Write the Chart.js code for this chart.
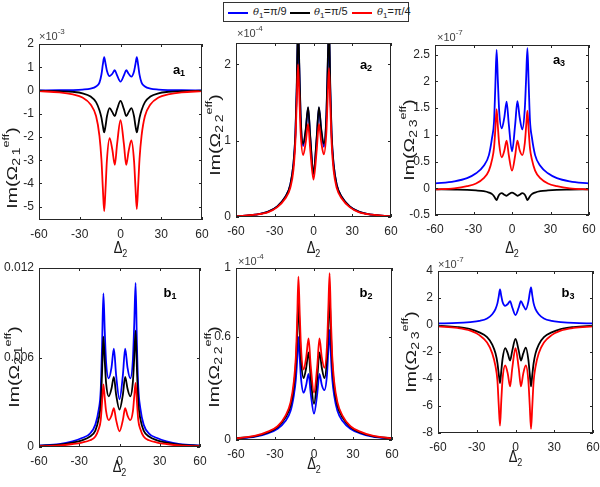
<!DOCTYPE html>
<html>
<head>
<meta charset="utf-8">
<script src="https://cdn.jsdelivr.net/npm/chart.js"></script>
<style>
  body { margin: 0; width: 600px; height: 487px; background: #fff; position: relative; overflow: hidden;
         font-family: "Liberation Sans", Arial, sans-serif; }
  canvas { position: absolute; }
  #leg { position: absolute; left: 223px; top: 2px; width: 184px; height: 18px; border: 1px solid #333;
         background: #fff; font-size: 11px; color: #222; }
  #leg .ln { position: absolute; top: 9px; width: 20px; height: 1.5px; }
  #leg .tx { position: absolute; top: 2px; white-space: nowrap; }
  #leg i { font-family: "DejaVu Serif", serif; font-size: 10px; }
  #leg sub { font-size: 8px; }
</style>
</head>
<body>
<div id="leg">
  <span class="ln" style="left:4px;background:#0000ff"></span><span class="tx" style="left:29px"><i>θ</i><sub>1</sub>=π/9</span>
  <span class="ln" style="left:66px;background:#000"></span><span class="tx" style="left:90px"><i>θ</i><sub>1</sub>=π/5</span>
  <span class="ln" style="left:128px;background:#ff0000"></span><span class="tx" style="left:153px"><i>θ</i><sub>1</sub>=π/4</span>
</div>
<canvas id="a1"></canvas>
<canvas id="a2"></canvas>
<canvas id="a3"></canvas>
<canvas id="b1"></canvas>
<canvas id="b2"></canvas>
<canvas id="b3"></canvas>
<script>
// detuning Δ2 sample points
const delta = [-60,-45,-35,-28,-22,-18,-15.5,-14,-13,-12,-11,-10,-8,-6,-4.2,-2.5,0,2.5,4.2,6,8,10,11,12,13,14,15.5,18,22,28,35,45,60];
const xTicks = [-60, -30, 0, 30, 60];

// a1: Im(Ω21 eff) x 1e-3
const a1Blue  = [0,0.01,0.02,0.04,0.08,0.17,0.34,0.7,1.12,1.43,1.15,0.85,0.62,0.72,0.87,0.65,0.38,0.65,0.87,0.72,0.6,0.83,1.13,1.43,1.1,0.68,0.34,0.17,0.08,0.04,0.02,0.01,0];
const a1Black = [-0.01,-0.03,-0.06,-0.12,-0.26,-0.5,-0.85,-1.18,-1.52,-1.8,-1.52,-1.12,-0.76,-0.93,-1.1,-0.8,-0.45,-0.8,-1.1,-0.93,-0.76,-1.12,-1.52,-1.8,-1.52,-1.18,-0.85,-0.5,-0.26,-0.12,-0.06,-0.03,-0.01];
const a1Red   = [-0.03,-0.08,-0.17,-0.3,-0.6,-1.1,-1.95,-3.0,-4.2,-5.2,-4.2,-3.0,-2.05,-2.55,-3.2,-2.3,-1.28,-2.3,-3.2,-2.6,-2.15,-3.05,-4.15,-5.1,-4.1,-2.95,-1.95,-1.1,-0.6,-0.3,-0.17,-0.08,-0.03];
const a1Ticks = [-5, -4, -3, -2, -1, 0, 1, 2];

// a2: Im(Ω22 eff) x 1e-4
const a2Blue  = [0.01,0.03,0.07,0.14,0.26,0.42,0.7,1.08,1.65,2.45,1.95,1.32,0.93,1.13,1.43,1.03,0.56,1.03,1.43,1.13,0.92,1.32,1.95,2.45,1.65,1.08,0.7,0.42,0.26,0.14,0.07,0.03,0.01];
const a2Black = [0.01,0.03,0.07,0.14,0.26,0.42,0.7,1.1,1.7,2.6,2.0,1.35,0.96,1.15,1.44,1.05,0.57,1.05,1.44,1.15,0.96,1.35,2.0,2.6,1.7,1.1,0.7,0.42,0.26,0.14,0.07,0.03,0.01];
const a2Red   = [0.01,0.03,0.065,0.13,0.24,0.38,0.62,1.0,1.5,2.0,1.6,1.12,0.81,0.98,1.22,0.88,0.49,0.88,1.22,0.98,0.82,1.12,1.58,1.95,1.48,0.98,0.62,0.38,0.24,0.13,0.065,0.03,0.01];
const a2Ticks = [0, 1, 2];

// a3: Im(Ω23 eff) x 1e-7
const a3Blue  = [0.09,0.13,0.19,0.28,0.42,0.62,0.95,1.25,1.9,2.59,2.0,1.45,1.12,1.32,1.62,1.2,0.69,1.2,1.63,1.32,1.1,1.5,2.05,2.62,1.95,1.27,0.95,0.62,0.42,0.28,0.19,0.13,0.09];
const a3Black = [-0.02,-0.025,-0.03,-0.04,-0.055,-0.08,-0.11,-0.15,-0.19,-0.22,-0.17,-0.12,-0.09,-0.12,-0.14,-0.11,-0.08,-0.11,-0.14,-0.12,-0.09,-0.12,-0.17,-0.22,-0.19,-0.15,-0.11,-0.08,-0.055,-0.04,-0.03,-0.025,-0.02];
const a3Red   = [-0.02,0.0,0.04,0.09,0.19,0.33,0.54,0.76,1.1,1.48,1.15,0.83,0.58,0.7,0.89,0.62,0.33,0.62,0.89,0.71,0.62,0.85,1.15,1.45,1.08,0.75,0.54,0.33,0.19,0.09,0.04,0.0,-0.02];
const a3Ticks = [-0.5, 0, 0.5, 1, 1.5, 2, 2.5];

// b1: Im(Ω21 eff)
const b1Blue  = [0.0001,0.0002,0.00038,0.0006,0.0009,0.0015,0.0025,0.0038,0.0068,0.0103,0.0078,0.0057,0.0046,0.0053,0.0066,0.0048,0.0032,0.0048,0.0066,0.0053,0.0046,0.0059,0.0083,0.011,0.0068,0.004,0.0026,0.0015,0.0009,0.0006,0.00038,0.0002,0.0001];
const b1Black = [0.00008,0.00016,0.0003,0.00045,0.0007,0.0011,0.0019,0.0029,0.005,0.0074,0.0058,0.0043,0.0034,0.0039,0.0047,0.0035,0.0025,0.0035,0.0047,0.0039,0.0034,0.0044,0.006,0.0078,0.0052,0.003,0.0019,0.0011,0.0007,0.00045,0.0003,0.00016,0.00008];
const b1Red   = [0.00005,0.0001,0.0002,0.0003,0.00045,0.0007,0.0012,0.0018,0.003,0.0042,0.0033,0.0024,0.0018,0.0021,0.0026,0.0018,0.00105,0.0018,0.0026,0.0021,0.0018,0.0024,0.0034,0.0043,0.003,0.0018,0.0012,0.0007,0.00045,0.0003,0.0002,0.0001,0.00005];
const b1Ticks = [0, 0.006, 0.012];

// b2: Im(Ω22 eff) x 1e-4
const b2Blue  = [0.008,0.02,0.04,0.065,0.11,0.17,0.26,0.35,0.46,0.6,0.48,0.36,0.275,0.32,0.385,0.27,0.153,0.27,0.385,0.32,0.29,0.38,0.52,0.64,0.49,0.36,0.26,0.17,0.11,0.065,0.04,0.02,0.008];
const b2Black = [0.01,0.022,0.045,0.075,0.13,0.2,0.31,0.44,0.6,0.81,0.63,0.47,0.36,0.42,0.51,0.36,0.21,0.36,0.51,0.42,0.36,0.48,0.66,0.84,0.62,0.45,0.31,0.2,0.13,0.075,0.045,0.022,0.01];
const b2Red   = [0.01,0.025,0.05,0.08,0.14,0.22,0.34,0.48,0.68,0.95,0.74,0.54,0.41,0.48,0.59,0.43,0.275,0.43,0.59,0.48,0.42,0.55,0.76,0.97,0.7,0.49,0.34,0.22,0.14,0.08,0.05,0.025,0.01];
const b2Ticks = [0, 0.6, 1];

// b3: Im(Ω23 eff) x 1e-7
const b3Blue  = [0.12,0.15,0.22,0.3,0.48,0.8,1.18,1.6,2.1,2.63,2.15,1.7,1.42,1.55,1.77,1.3,0.74,1.3,1.77,1.45,1.15,1.75,2.35,2.78,2.2,1.62,1.18,0.8,0.48,0.3,0.22,0.15,0.12];
const b3Black = [-0.05,-0.15,-0.3,-0.55,-0.9,-1.45,-2.1,-2.8,-3.6,-4.3,-3.4,-2.5,-1.72,-2.1,-2.63,-1.9,-1.03,-1.9,-2.63,-2.1,-1.67,-2.6,-3.6,-4.55,-3.7,-2.85,-2.1,-1.45,-0.9,-0.55,-0.3,-0.15,-0.05];
const b3Red   = [-0.1,-0.22,-0.42,-0.75,-1.3,-2.1,-3.05,-4.1,-5.9,-7.45,-5.6,-4.0,-3.0,-3.6,-4.55,-3.2,-1.72,-3.2,-4.55,-3.6,-3.0,-4.2,-5.9,-7.7,-6.0,-4.2,-3.1,-2.1,-1.3,-0.75,-0.42,-0.22,-0.1];
const b3Ticks = [-8, -6, -4, -2, 0, 2, 4];

Chart.defaults.font.family = '"Liberation Sans", Arial, sans-serif';

// layout of each panel (page px): canvas box, plot rect, label spots
const panels = [
  { id: 'a1', series: [a1Blue, a1Black, a1Red], yTicks: a1Ticks, yMin: -5.57, yMax: 2,
    box: [0, 18, 220, 258], plot: [39, 44, 202, 220], sub: '21', exp: '-3', expAt: [39, 37],
    yLab: [13, 168], dLab: [120.5, 249], tag: ['a', '1', 179, 70] },
  { id: 'a2', series: [a2Blue, a2Black, a2Red], yTicks: a2Ticks, yMin: 0, yMax: 2.28,
    box: [198, 18, 409, 258], plot: [236, 43, 391, 217], sub: '22', exp: '-4', expAt: [237, 34],
    yLab: [216, 135], dLab: [313.5, 249], tag: ['a', '2', 366, 65] },
  { id: 'a3', series: [a3Blue, a3Black, a3Red], yTicks: a3Ticks, yMin: -0.5, yMax: 2.68,
    box: [396, 18, 607, 258], plot: [435, 45, 589, 215], sub: '23', exp: '-7', expAt: [437, 38],
    yLab: [410, 140], dLab: [512, 249], tag: ['a', '3', 559, 60] },
  { id: 'b1', series: [b1Blue, b1Black, b1Red], yTicks: b1Ticks, yMin: 0, yMax: 0.012,
    box: [0, 248, 218, 487], plot: [39, 268, 200, 447], sub: '21', exp: null,
    yLab: [15, 367], dLab: [119.5, 468], tag: ['b', '1', 170, 293] },
  { id: 'b2', series: [b2Blue, b2Black, b2Red], yTicks: b2Ticks, yMin: 0, yMax: 1,
    box: [198, 248, 410, 487], plot: [236, 268, 392, 440], sub: '22', exp: '-4', expAt: [238, 262],
    yLab: [215, 367], dLab: [314, 465], tag: ['b', '2', 366, 293] },
  { id: 'b3', series: [b3Blue, b3Black, b3Red], yTicks: b3Ticks, yMin: -8, yMax: 4,
    box: [396, 248, 611, 487], plot: [438, 271, 593, 433], sub: '23', exp: '-7', expAt: [438, 265],
    yLab: [412, 352], dLab: [515.5, 458], tag: ['b', '3', 568, 293] }
];

const colors = ['#0000ff', '#000000', '#ff0000'];
const ink = '#262626';

// draw a run of text pieces [text, size, dy, bold]
function rich(ctx, parts, x, y, align) {
  let w = 0;
  parts.forEach(q => { ctx.font = (q[3] ? 'bold ' : '') + q[1] + 'px "Liberation Sans", Arial'; q.w = ctx.measureText(q[0]).width; w += q.w; });
  let cx = align === 'left' ? x : x - w / 2;
  ctx.textAlign = 'left';
  ctx.textBaseline = 'middle';
  parts.forEach(q => {
    ctx.font = (q[3] ? 'bold ' : '') + q[1] + 'px "Liberation Sans", Arial';
    ctx.fillText(q[0], cx, y + q[2]);
    cx += q.w;
  });
}

function deco(p) {
  const ox = p.box[0], oy = p.box[1];
  return {
    id: 'deco',
    afterDraw(chart) {
      const ctx = chart.ctx, a = chart.chartArea;
      const xs = chart.scales.x, ys = chart.scales.y;
      ctx.save();
      ctx.strokeStyle = ink;
      ctx.lineWidth = 1;
      ctx.beginPath();
      xs.ticks.forEach(t => {
        const px = Math.round(xs.getPixelForValue(t.value)) + 0.5;
        ctx.moveTo(px, a.bottom); ctx.lineTo(px, a.bottom - 3);
        ctx.moveTo(px, a.top); ctx.lineTo(px, a.top + 3);
      });
      ys.ticks.forEach(t => {
        const py = Math.round(ys.getPixelForValue(t.value)) + 0.5;
        ctx.moveTo(a.left, py); ctx.lineTo(a.left + 3, py);
        ctx.moveTo(a.right, py); ctx.lineTo(a.right - 3, py);
      });
      ctx.stroke();
      ctx.strokeRect(a.left + 0.5, a.top + 0.5, a.right - a.left - 1, a.bottom - a.top - 1);

      ctx.fillStyle = '#1a1a1a';
      // x title
      ctx.save();
      ctx.translate(p.dLab[0] - ox, p.dLab[1] - oy);
      ctx.scale(1, 1.25);
      rich(ctx, [['Δ', 13, 0], ['2', 9, 4]], 0, 0);
      ctx.restore();
      // y title, stretched along its length like the source figure
      ctx.save();
      ctx.translate(p.yLab[0] - ox, p.yLab[1] - oy);
      ctx.rotate(-Math.PI / 2);
      ctx.scale(1.4, 1);
      rich(ctx, [['Im(Ω', 14, 0], [p.sub[0] + '\u2009' + p.sub[1], 10, 4], ['eff', 9, -6], [')', 14, 0]], 0, 0);
      ctx.restore();
      // panel tag
      ctx.fillStyle = '#000';
      rich(ctx, [[p.tag[0], 13, 0, true], [p.tag[1], 9, 4, true]], p.tag[2] - ox, p.tag[3] - oy);
      // exponent
      if (p.exp) {
        ctx.fillStyle = '#404040';
        rich(ctx, [['×10', 11, 0], [p.exp, 8, -5]], p.expAt[0] - ox, p.expAt[1] - oy, 'left');
      }
      ctx.restore();
    }
  };
}

panels.forEach(p => {
  const cv = document.getElementById(p.id);
  const [x0, y0, x1, y1] = p.box;
  const [L, T, R, B] = p.plot;
  cv.width = x1 - x0; cv.height = y1 - y0;
  cv.style.left = x0 + 'px'; cv.style.top = y0 + 'px';
  new Chart(cv, {
    type: 'line',
    data: {
      datasets: p.series.map((s, k) => ({
        data: delta.map((x, i) => ({ x: x, y: s[i] })),
        borderColor: colors[k],
        borderWidth: 1.8,
        pointRadius: 0,
        cubicInterpolationMode: 'monotone',
        order: 3 - k
      }))
    },
    options: {
      responsive: false,
      animation: false,
      events: [],
      layout: { padding: { top: T - y0, right: x1 - R, left: 0, bottom: 0 } },
      plugins: { legend: { display: false }, tooltip: { enabled: false } },
      scales: {
        x: {
          type: 'linear', min: -60, max: 60,
          grid: { display: false, drawTicks: false }, border: { display: false },
          ticks: { autoSkip: false, maxRotation: 0, padding: 7, color: ink, font: { size: 12 } },
          afterBuildTicks: s => { s.ticks = xTicks.map(v => ({ value: v })); },
          afterFit: s => { s.height = y1 - B; }
        },
        y: {
          type: 'linear', min: p.yMin, max: p.yMax,
          grid: { display: false, drawTicks: false }, border: { display: false },
          ticks: { autoSkip: false, padding: 5, color: ink, font: { size: 12 }, callback: v => String(v) },
          afterBuildTicks: s => { s.ticks = p.yTicks.map(v => ({ value: v })); },
          afterFit: s => { s.width = L - x0; }
        }
      }
    },
    plugins: [deco(p)]
  });
});
</script>
</body>
</html>
